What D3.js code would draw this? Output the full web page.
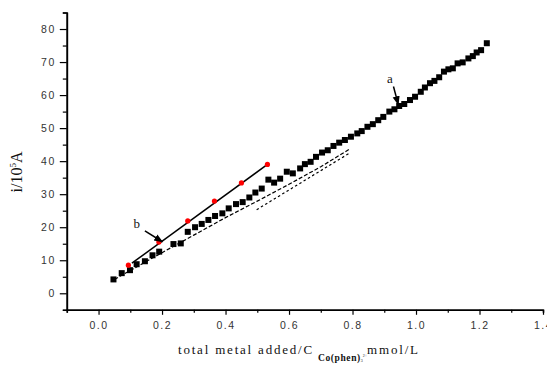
<!DOCTYPE html>
<html>
<head>
<meta charset="utf-8">
<script src="https://cdn.jsdelivr.net/npm/d3@7"></script>
<style>
body { margin: 0; background: #fff; }
.tick-label { font-family: "Liberation Sans", Arial, sans-serif; font-size: 10.5px; letter-spacing: 1.5px; fill: #333; }
.axis-title { font-family: "Liberation Serif", "Times New Roman", serif; fill: #111; }
.note { font-family: "Liberation Serif", "Times New Roman", serif; font-size: 13px; fill: #111; }
</style>
</head>
<body>
<div id="content"></div>
<script>
// series a (black squares)
const A_X = [0.047, 0.073, 0.099, 0.12, 0.146, 0.17, 0.191, 0.236, 0.259, 0.281, 0.304, 0.325, 0.346, 0.367, 0.39, 0.41,
    0.433, 0.454, 0.475, 0.494, 0.514, 0.535, 0.553, 0.572, 0.593, 0.612, 0.635, 0.65, 0.668, 0.685, 0.704, 0.722,
    0.74, 0.758, 0.776, 0.795, 0.815, 0.829, 0.847, 0.864, 0.881, 0.897, 0.916, 0.932, 0.947, 0.963, 0.981, 0.997,
    1.015, 1.028, 1.044, 1.058, 1.073, 1.088, 1.102, 1.116, 1.131, 1.147, 1.165, 1.179, 1.191, 1.205, 1.223];
const A_Y = [4.2, 6.1, 7.0, 8.8, 9.7, 11.5, 12.6, 14.9, 15.1, 18.6, 20.0, 21.0, 22.2, 23.4, 24.2, 25.7,
    27.0, 27.6, 29.0, 30.5, 31.7, 34.4, 33.5, 34.7, 36.8, 36.3, 37.8, 39.1, 39.8, 41.3, 42.6, 43.3,
    44.6, 45.6, 46.4, 47.4, 48.4, 49.1, 50.4, 51.2, 52.4, 53.4, 55.0, 55.7, 56.7, 57.3, 58.5, 59.5,
    61.0, 62.3, 63.6, 64.3, 65.4, 67.1, 67.8, 68.1, 69.6, 69.9, 71.1, 71.8, 72.9, 73.6, 75.7];

// series b (red dots) and its fitted line
const B_X = [0.094, 0.19, 0.281, 0.365, 0.45, 0.532];
const B_Y = [8.5, 15.5, 21.9, 27.9, 33.4, 39.0];
const B_LINE_X = [0.105, 0.532];
const B_LINE_Y = [9.1, 39.0];

// dashed curves
const DASH1_X = [0.05, 0.2, 0.3, 0.4, 0.5, 0.6, 0.7, 0.79];
const DASH1_Y = [4.2, 12.3, 17.6, 22.9, 27.9, 33.0, 38.3, 43.6];
const DASH2_X = [0.498, 0.79];
const DASH2_Y = [25.3, 42.4];

// ticks
const X_TICKS = [0.0, 0.2, 0.4, 0.6, 0.8, 1.0, 1.2, 1.4];
const X_MINOR = [-0.1, 0.1, 0.3, 0.5, 0.7, 0.9, 1.1, 1.3];
const Y_TICKS = [0, 10, 20, 30, 40, 50, 60, 70, 80];
const Y_MINOR = [-5, 5, 15, 25, 35, 45, 55, 65, 75, 85];

// annotations: [label, label x, label y, arrow from x, from y, to x, to y]
const NOTES = [
    ['a', 0.918, 65.1, 0.929, 62.6, 0.944, 57.2],
    ['b', 0.12, 21.2, 0.146, 18.9, 0.201, 15.6]
];

var width = 547;
var height = 367;

var svg = d3.select('#content')
.append('svg')
.attr('width', width)
.attr('height', height);

var x = d3.scaleLinear().domain([-0.1, 1.4]).range([66.8, 543]);
var y = d3.scaleLinear().domain([-5, 85]).range([309.8, 12.5]);

svg.append('defs')
.append('marker')
.attr('id', 'head')
.attr('viewBox', '0 0 10 10')
.attr('refX', 9)
.attr('refY', 5)
.attr('markerWidth', 6)
.attr('markerHeight', 6)
.attr('orient', 'auto')
.append('path')
.attr('d', 'M0,1 L10,5 L0,9 z')
.attr('fill', '#000');

// axes
function styleAxis(g) {
    g.select('.domain').attr('stroke', '#000').attr('stroke-width', 1.6);
    g.selectAll('.tick line').attr('stroke', '#000').attr('stroke-width', 1.2);
    g.selectAll('.tick text').attr('class', 'tick-label').attr('font-family', null).attr('font-size', null).attr('fill', null);
}

svg.append('g')
.attr('transform', 'translate(0,' + y(-5) + ')')
.call(d3.axisBottom(x).tickValues(X_MINOR).tickSize(3).tickFormat(''))
.call(styleAxis);

svg.append('g')
.attr('transform', 'translate(0,' + y(-5) + ')')
.call(d3.axisBottom(x).tickValues(X_TICKS).tickSize(5).tickSizeOuter(0).tickPadding(7).tickFormat(d3.format('.1f')))
.call(styleAxis);

svg.append('g')
.attr('transform', 'translate(' + x(-0.1) + ',0)')
.call(d3.axisLeft(y).tickValues(Y_MINOR).tickSize(4).tickFormat(''))
.call(styleAxis);

svg.append('g')
.attr('transform', 'translate(' + x(-0.1) + ',0)')
.call(d3.axisLeft(y).tickValues(Y_TICKS).tickSize(7).tickSizeOuter(0).tickPadding(4).tickFormat(d3.format('d')))
.call(styleAxis);

// axis titles
svg.append('text')
.attr('class', 'axis-title')
.attr('transform', 'translate(22,172) rotate(-90)')
.attr('text-anchor', 'middle')
.attr('font-size', 16)
.html('i/10<tspan dy="-6" font-size="9">5</tspan><tspan dy="6">A</tspan>');

svg.append('text')
.attr('class', 'axis-title')
.attr('x', 178)
.attr('y', 354)
.attr('font-size', 13)
.attr('letter-spacing', 1.8)
.html('total metal added/C<tspan dx="4" dy="7" font-size="9.5" font-weight="bold" letter-spacing="0.6">Co(phen)</tspan>' +
    '<tspan dy="1" font-size="4" letter-spacing="0">3</tspan><tspan dy="-5" font-size="4" letter-spacing="0">2+</tspan>' +
    '<tspan dy="-3">mmol/L</tspan>');

// lines
var line = d3.line()
.x(function (d) {return x(d[0])})
.y(function (d) {return y(d[1])});

svg.append('path')
.datum(d3.zip(DASH1_X, DASH1_Y))
.attr('d', line)
.attr('fill', 'none')
.attr('stroke', '#000')
.attr('stroke-width', 1.2)
.attr('stroke-dasharray', '4,2');

svg.append('path')
.datum(d3.zip(DASH2_X, DASH2_Y))
.attr('d', line)
.attr('fill', 'none')
.attr('stroke', '#000')
.attr('stroke-width', 1.2)
.attr('stroke-dasharray', '2.5,2.5');

svg.selectAll('.sq')
.data(d3.zip(A_X, A_Y))
.enter()
.append('rect')
.attr('class', 'sq')
.attr('x', function (d) {return x(d[0]) - 3})
.attr('y', function (d) {return y(d[1]) - 3})
.attr('width', 6)
.attr('height', 6)
.attr('fill', '#000');

svg.append('path')
.datum(d3.zip(B_LINE_X, B_LINE_Y))
.attr('d', line)
.attr('fill', 'none')
.attr('stroke', '#000')
.attr('stroke-width', 1.5);

svg.selectAll('.dot')
.data(d3.zip(B_X, B_Y))
.enter()
.append('circle')
.attr('class', 'dot')
.attr('cx', function (d) {return x(d[0])})
.attr('cy', function (d) {return y(d[1])})
.attr('r', 2.6)
.attr('fill', '#f00');

// annotations
svg.selectAll('.note')
.data(NOTES)
.enter()
.append('text')
.attr('class', 'note')
.attr('x', function (d) {return x(d[1])})
.attr('y', function (d) {return y(d[2])})
.attr('dy', '0.35em')
.attr('text-anchor', 'middle')
.text(function (d) {return d[0]});

svg.selectAll('.arrow')
.data(NOTES)
.enter()
.append('line')
.attr('class', 'arrow')
.attr('x1', function (d) {return x(d[3])})
.attr('y1', function (d) {return y(d[4])})
.attr('x2', function (d) {return x(d[5])})
.attr('y2', function (d) {return y(d[6])})
.attr('stroke', '#000')
.attr('stroke-width', 1.5)
.attr('marker-end', 'url(#head)');
</script>
</body>
</html>
